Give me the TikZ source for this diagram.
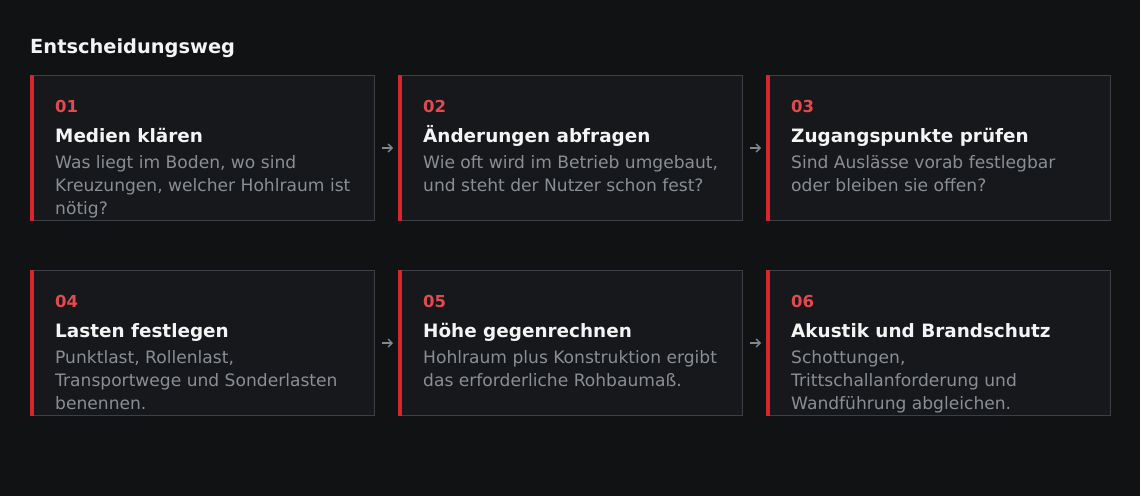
\documentclass[tikz,border=0pt]{standalone}
\usepackage{fontspec}
\setmainfont{DejaVu Sans}
\usetikzlibrary{arrows.meta,calc}
\definecolor{bg}{HTML}{111214}
\definecolor{cardfill}{HTML}{16181B}
\definecolor{cardline}{HTML}{3C3F45}
\definecolor{accent}{HTML}{D7262F}
\definecolor{numred}{HTML}{E04B4F}
\definecolor{titlewhite}{HTML}{F4F4F4}
\definecolor{bodygray}{HTML}{8A8E95}
\definecolor{arrowgray}{HTML}{83868C}
\tikzset{
  card/.style={draw=cardline, fill=cardfill, line width=1pt, inner sep=0pt,
    minimum width=344pt, minimum height=145pt, rectangle},
  numtxt/.style={font=\bfseries\fontsize{16.5}{19}\selectfont, text=numred, inner sep=0pt, anchor=base west},
  titletxt/.style={font=\bfseries\fontsize{18.4}{22}\selectfont, text=titlewhite, inner sep=0pt, anchor=base west},
  bodytxt/.style={font=\fontsize{17.1}{23}\selectfont, text=bodygray, inner sep=0pt, anchor=base west},
  headtxt/.style={font=\bfseries\fontsize{19.4}{23}\selectfont, text=titlewhite, inner sep=0pt, anchor=base west},
  flow/.style={draw=arrowgray, line width=1.4pt, -{Straight Barb[length=4pt,width=8pt]},
    shorten <=7pt, shorten >=5pt}
}
\newcommand{\mkcard}[6]{%
  \node[card, anchor=north west] (#1) at (#2,#3) {};
  \fill[accent] (#1.north west) rectangle ($(#1.south west)+(4,0)$);
  \node[numtxt] (#1-num) at ($(#1.north west)+(25,37)$) {#4};
  \node[titletxt] (#1-title) at ($(#1.north west)+(25,67)$) {#5};
  \foreach \ln [count=\i from 0] in {#6} {
    \node[bodytxt] (#1-l\i) at ($(#1.north west)+(25,93.5+23*\i)$) {\ln};
  }
}
\begin{document}
\begin{tikzpicture}[x=1pt,y=-1pt]
\useasboundingbox (0,0) rectangle (1140,496);
\fill[bg] (0,0) rectangle (1140,496);
\node[headtxt] (head) at (30,53) {Entscheidungsweg};
\mkcard{c1}{30}{75}{01}{Medien klären}{{Was liegt im Boden, wo sind},{Kreuzungen, welcher Hohlraum ist},{nötig?}}
\mkcard{c2}{398}{75}{02}{Änderungen abfragen}{{Wie oft wird im Betrieb umgebaut,},{und steht der Nutzer schon fest?}}
\mkcard{c3}{766}{75}{03}{Zugangspunkte prüfen}{{Sind Auslässe vorab festlegbar},{oder bleiben sie offen?}}
\mkcard{c4}{30}{270}{04}{Lasten festlegen}{{Punktlast, Rollenlast,},{Transportwege und Sonderlasten},{benennen.}}
\mkcard{c5}{398}{270}{05}{Höhe gegenrechnen}{{Hohlraum plus Konstruktion ergibt},{das erforderliche Rohbaumaß.}}
\mkcard{c6}{766}{270}{06}{Akustik und Brandschutz}{{Schottungen,},{Trittschallanforderung und},{Wandführung abgleichen.}}
\draw[flow] (c1.east) -- (c2.west);
\draw[flow] (c2.east) -- (c3.west);
\draw[flow] (c4.east) -- (c5.west);
\draw[flow] (c5.east) -- (c6.west);
\end{tikzpicture}
\end{document}
